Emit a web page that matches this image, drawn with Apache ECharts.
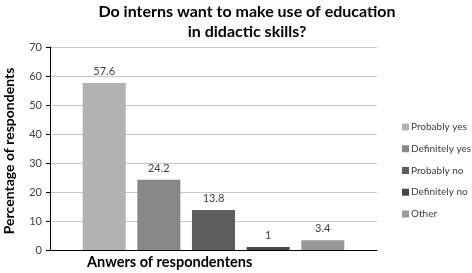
<!DOCTYPE html>
<html><head><meta charset="utf-8">
<script src="https://cdn.jsdelivr.net/npm/echarts@6/dist/echarts.min.js"></script>
<style>html,body{margin:0;padding:0;background:#fff}#c{width:472px;height:273px}</style>
</head><body><div id="c"></div>
<script>
const seriesNames = ['Probably yes', 'Definitely yes', 'Probably no', 'Definitely no', 'Other'];
const seriesValues = [57.6, 24.2, 13.8, 1, 3.4];
const seriesColors = ['#b2b2b2', '#878787', '#5e5e5e', '#474747', '#999999'];
const categories = [''];
const yTicks = { min: 0, max: 70, interval: 10 };
const FONT = 'Lato';

const chart = echarts.init(document.getElementById('c'));
chart.setOption({
  animation: false,
  textStyle: { fontFamily: FONT },
  title: {
    text: 'Do interns want to make use of education\nin didactic skills?',
    left: 242, textAlign: 'center', top: -3,
    textStyle: { fontFamily: FONT, fontSize: 16, fontWeight: 'bold', color: '#000', lineHeight: 20 }
  },
  legend: {
    orient: 'vertical', left: 397, top: 115,
    itemWidth: 7, itemHeight: 7, itemGap: 7.75,
    icon: 'rect',
    textStyle: { fontFamily: FONT, fontSize: 10, lineHeight: 14, color: '#404040', padding: [0, 0, 0, -3] },
    data: seriesNames
  },
  grid: { left: 50, right: 95, top: 47, bottom: 23, outerBoundsMode: 'none', containLabel: false },
  xAxis: {
    type: 'category', data: categories,
    axisLine: { lineStyle: { color: '#000', width: 1 } },
    axisTick: { show: false },
    axisLabel: { show: false }
  },
  yAxis: {
    type: 'value', min: yTicks.min, max: yTicks.max, interval: yTicks.interval,
    name: 'Percentage of respondents', nameLocation: 'middle', nameGap: 34,
    nameTextStyle: { fontFamily: FONT, fontSize: 14, fontWeight: 'bold', color: '#000', padding: [0, 5, 0, 0] },
    axisLine: { show: true, lineStyle: { color: '#000' } },
    axisTick: { show: true, length: 4, lineStyle: { color: '#000' } },
    axisLabel: { fontFamily: FONT, fontSize: 11, color: '#404040', margin: 8 },
    splitLine: { lineStyle: { color: '#c8c8c8', width: 1 } }
  },
  graphic: [{
    type: 'text', left: 87, top: 255,
    style: { text: 'Anwers of respondentens', font: 'bold 14.5px ' + FONT, fill: '#000' }
  }],
  series: seriesNames.map((n, i) => ({
    name: n, type: 'bar', data: [seriesValues[i]],
    barGap: '27%', barCategoryGap: '20%',
    itemStyle: { color: seriesColors[i] },
    label: { show: true, position: 'top', distance: 6, fontFamily: FONT, fontSize: 11, color: '#404040' }
  }))
});
</script></body></html>
